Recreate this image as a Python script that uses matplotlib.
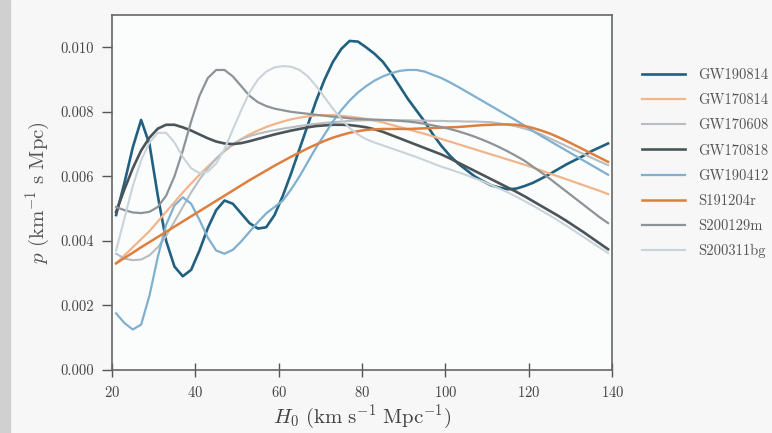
import numpy as np
import matplotlib
matplotlib.use("Agg")
import matplotlib.pyplot as plt
from matplotlib.ticker import FormatStrFormatter
from matplotlib.patches import Rectangle

plt.rcParams["font.family"] = "serif"
plt.rcParams["font.serif"] = ["cmr10", "DejaVu Serif"]
plt.rcParams["mathtext.fontset"] = "cm"
plt.rcParams["axes.formatter.use_mathtext"] = True

# H0 grid (km/s/Mpc)
h0 = np.arange(21, 140, 2)

# posteriors, in units of 1e-3 per (km/s/Mpc)
gw190814 = [4.8, 5.8, 6.9, 7.75, 7.0, 5.4, 4.0, 3.2, 2.9, 3.1,
            3.7, 4.4, 4.95, 5.25, 5.15, 4.85, 4.55, 4.38, 4.42, 4.8,
            5.4, 6.1, 6.85, 7.6, 8.35, 9.0, 9.55, 9.95, 10.2, 10.18,
            10.0, 9.8, 9.55, 9.2, 8.8, 8.4, 8.05, 7.7, 7.3, 6.95,
            6.65, 6.4, 6.2, 6.0, 5.85, 5.72, 5.65, 5.6, 5.62, 5.7,
            5.8, 5.93, 6.07, 6.22, 6.37, 6.5, 6.63, 6.78, 6.9, 7.02]
gw170814 = [3.3, 3.55, 3.8, 4.05, 4.3, 4.6, 4.9, 5.2, 5.5, 5.78,
            6.05, 6.3, 6.55, 6.78, 6.98, 7.15, 7.3, 7.42, 7.53, 7.62,
            7.7, 7.77, 7.82, 7.86, 7.89, 7.9, 7.9, 7.88, 7.85, 7.82,
            7.78, 7.73, 7.67, 7.6, 7.53, 7.46, 7.39, 7.32, 7.24, 7.16,
            7.08, 7.0, 6.92, 6.84, 6.76, 6.68, 6.6, 6.52, 6.44, 6.36,
            6.27, 6.18, 6.09, 6.0, 5.91, 5.82, 5.73, 5.64, 5.55, 5.45]
gw170608 = [3.6, 3.45, 3.4, 3.42, 3.55, 3.8, 4.15, 4.6, 5.05, 5.5,
            5.9, 6.25, 6.55, 6.8, 7.0, 7.15, 7.25, 7.32, 7.38, 7.43,
            7.48, 7.52, 7.56, 7.6, 7.63, 7.66, 7.68, 7.7, 7.72, 7.73,
            7.74, 7.74, 7.74, 7.74, 7.74, 7.74, 7.73, 7.73, 7.72, 7.72,
            7.71, 7.71, 7.7, 7.7, 7.69, 7.68, 7.64, 7.6, 7.55, 7.48,
            7.4, 7.3, 7.18, 7.06, 6.94, 6.82, 6.7, 6.58, 6.46, 6.35]
gw170818 = [4.9, 5.6, 6.25, 6.8, 7.2, 7.48, 7.6, 7.6, 7.52, 7.42,
            7.3, 7.18, 7.08, 7.02, 7.0, 7.03, 7.09, 7.16, 7.23, 7.3,
            7.36, 7.42, 7.47, 7.52, 7.56, 7.58, 7.6, 7.6, 7.59, 7.56,
            7.52, 7.46, 7.38, 7.28, 7.18, 7.08, 6.98, 6.88, 6.78, 6.68,
            6.56, 6.43, 6.3, 6.17, 6.04, 5.91, 5.78, 5.65, 5.52, 5.38,
            5.23, 5.08, 4.93, 4.78, 4.62, 4.45, 4.28, 4.1, 3.92, 3.74]
gw190412 = [1.75, 1.45, 1.25, 1.4, 2.3, 3.5, 4.5, 5.1, 5.35, 5.15,
            4.65, 4.1, 3.7, 3.6, 3.72, 3.98, 4.28, 4.58, 4.85, 5.05,
            5.25, 5.6, 6.0, 6.45, 6.9, 7.3, 7.7, 8.05, 8.35, 8.6,
            8.8, 8.97, 9.1, 9.2, 9.27, 9.3, 9.3, 9.25, 9.15, 9.05,
            8.92, 8.78, 8.63, 8.48, 8.33, 8.18, 8.03, 7.88, 7.73, 7.57,
            7.41, 7.25, 7.1, 6.95, 6.8, 6.65, 6.5, 6.35, 6.2, 6.05]
s191204r = [3.3, 3.47, 3.63, 3.8, 3.96, 4.12, 4.28, 4.44, 4.6, 4.76,
            4.92, 5.08, 5.24, 5.4, 5.56, 5.72, 5.88, 6.03, 6.18, 6.33,
            6.47, 6.61, 6.74, 6.87, 6.99, 7.1, 7.2, 7.28, 7.35, 7.4,
            7.44, 7.46, 7.47, 7.47, 7.47, 7.47, 7.48, 7.49, 7.5, 7.51,
            7.52, 7.53, 7.55, 7.57, 7.59, 7.6, 7.61, 7.61, 7.6, 7.56,
            7.5, 7.42, 7.33, 7.22, 7.1, 6.97, 6.84, 6.71, 6.58, 6.45]
s200129m = [5.05, 4.95, 4.88, 4.86, 4.9, 5.05, 5.4, 6.0, 6.8, 7.7,
            8.5, 9.05, 9.3, 9.3, 9.1, 8.8, 8.5, 8.3, 8.18, 8.1,
            8.05, 8.0, 7.97, 7.94, 7.91, 7.88, 7.85, 7.83, 7.8, 7.78,
            7.77, 7.76, 7.75, 7.74, 7.72, 7.7, 7.67, 7.63, 7.58, 7.53,
            7.47, 7.4, 7.32, 7.23, 7.13, 7.02, 6.9, 6.77, 6.63, 6.48,
            6.3, 6.12, 5.93, 5.73, 5.53, 5.33, 5.13, 4.93, 4.73, 4.55]
s200311bg = [3.7, 4.7, 5.7, 6.5, 7.05, 7.35, 7.35, 7.05, 6.6, 6.25,
             6.1, 6.15, 6.4, 6.85, 7.45, 8.05, 8.6, 9.0, 9.25, 9.38,
             9.42, 9.4, 9.3, 9.1, 8.8, 8.45, 8.1, 7.78, 7.5, 7.3,
             7.15, 7.05, 6.96, 6.87, 6.78, 6.69, 6.6, 6.5, 6.4, 6.3,
             6.22, 6.13, 6.04, 5.94, 5.84, 5.73, 5.62, 5.5, 5.37, 5.23,
             5.09, 4.94, 4.79, 4.63, 4.47, 4.3, 4.13, 3.96, 3.79, 3.62]

names = ["GW190814", "GW170814", "GW170608", "GW170818",
         "GW190412", "S191204r", "S200129m", "S200311bg"]
series = [gw190814, gw170814, gw170608, gw170818,
          gw190412, s191204r, s200129m, s200311bg]
colors = ["#21607f", "#f2b48a", "#b9bdbf", "#4b5559",
          "#7fb0cf", "#dd7f3e", "#8d9397", "#c9d4da"]
widths = [1.9, 1.6, 1.5, 1.9, 1.6, 1.8, 1.6, 1.5]

fig = plt.figure(figsize=(7.72, 4.33), dpi=100, facecolor="#f6f7f6")
# grey edge strip of the screen capture
fig.patches.append(Rectangle((0, 0), 0.013, 1, transform=fig.transFigure,
                             color="#cfd0cf", zorder=0))
ax = fig.add_axes([0.145, 0.146, 0.648, 0.819])
ax.set_facecolor("#fbfdfd")

for name, vals, c, lw in zip(names, series, colors, widths):
    ax.plot(h0, np.array(vals) * 1e-3, color=c, lw=lw, label=name)

ax.set_xlim(20, 140)
ax.set_ylim(0, 0.011)
ax.set_xticks([20, 40, 60, 80, 100, 120, 140])
ax.set_yticks([0, 0.002, 0.004, 0.006, 0.008, 0.010])
ax.yaxis.set_major_formatter(FormatStrFormatter("%.3f"))
ax.tick_params(axis="x", direction="inout", length=10, width=1, colors="#555555",
               labelsize=10.5, pad=6, labelcolor="#444444")
ax.tick_params(axis="y", direction="out", length=7, width=1, colors="#555555",
               labelsize=10.5, pad=6, labelcolor="#444444")
for s in ax.spines.values():
    s.set_color("#666666")
    s.set_linewidth(1.2)

ax.set_xlabel(r"$H_0\ (\mathrm{km\ s^{-1}\ Mpc^{-1}})$", fontsize=15, color="#444444", labelpad=2)
ax.set_ylabel(r"$p\ (\mathrm{km^{-1}\ s\ Mpc})$", fontsize=15, color="#555555", labelpad=6)

fig.legend(loc="upper left", bbox_to_anchor=(0.815, 0.872), frameon=False,
           fontsize=10.5, handlelength=2.9, handletextpad=0.9, labelspacing=0.78,
           labelcolor="#555555")

fig.savefig("out.png", dpi=100, facecolor=fig.get_facecolor())
